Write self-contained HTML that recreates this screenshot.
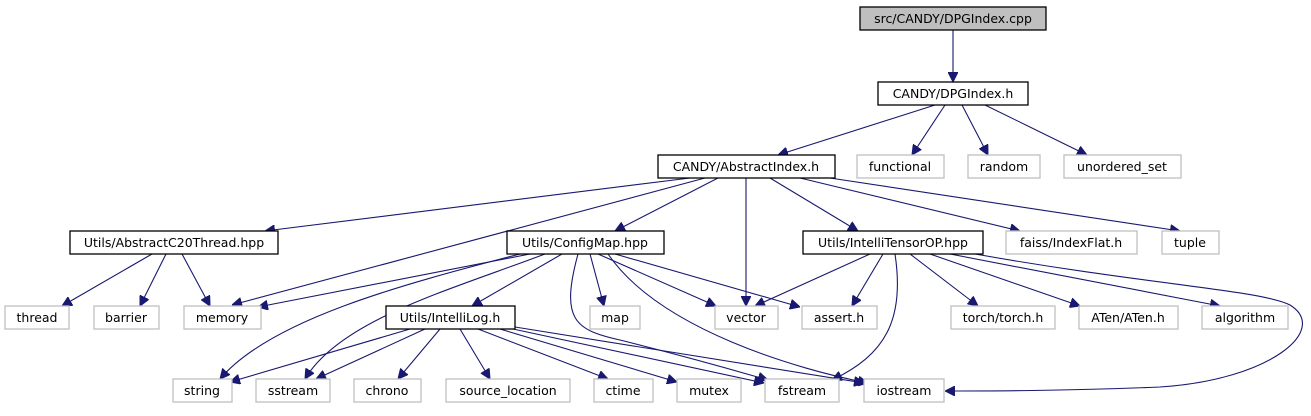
<!DOCTYPE html>
<html><head><meta charset="utf-8"><style>
body{margin:0;background:#fff;}
text{font-family:"DejaVu Sans","Liberation Sans",sans-serif;font-size:12.5px;fill:#000;text-anchor:middle;}
.n{fill:#fff;stroke:#000;stroke-width:1.3}
.g{fill:#fff;stroke:#bfbfbf;stroke-width:1.3}
.e{fill:none;stroke:#191970;stroke-width:1.1}
</style></head><body>
<svg width="1311" height="411" viewBox="0 0 1311 411" xmlns="http://www.w3.org/2000/svg">
<defs><marker id="a" viewBox="0 0 10 10" refX="10" refY="5" markerWidth="10" markerHeight="10" markerUnits="userSpaceOnUse" orient="auto"><path d="M0,0 L10,5 L0,10 z" fill="#191970" stroke="#191970"/></marker></defs>
<g class="e" marker-end="url(#a)">
<path d="M953,30 L953,82"/>
<path d="M935,105 L778,155"/>
<path d="M945,105 L912,155"/>
<path d="M962,105 L988,155"/>
<path d="M985,105 L1087,155"/>
<path d="M690,178 L265,231"/>
<path d="M705,178 L232,305"/>
<path d="M718,178 L615,231"/>
<path d="M746,178 L746,306"/>
<path d="M770,178 L858,231"/>
<path d="M800,178 L1020,231"/>
<path d="M830,178 L1180,231"/>
<path d="M152,254 L62,306"/>
<path d="M166,254 L140,306"/>
<path d="M182,254 L210,306"/>
<path d="M530,254 L258,307"/>
<path d="M520,254 C400,285 270,320 220,379"/>
<path d="M545,254 C450,290 340,320 305,379"/>
<path d="M562,254 L472,306"/>
<path d="M578,254 C560,320 575,330 620,340 C700,360 740,372 768,380"/>
<path d="M590,254 L604,306"/>
<path d="M598,254 L716,306"/>
<path d="M615,254 L800,307"/>
<path d="M608,254 C660,330 800,370 868,383"/>
<path d="M870,254 L755,306"/>
<path d="M883,254 L852,306"/>
<path d="M895,254 C905,320 885,355 832,380"/>
<path d="M910,254 L978,306"/>
<path d="M930,254 L1080,306"/>
<path d="M950,254 L1220,306"/>
<path d="M975,254 C1150,285 1260,290 1290,305 C1330,330 1270,380 1160,387 C1060,391 990,391 945,391"/>
<path d="M410,329 L230,382"/>
<path d="M425,329 L316,379"/>
<path d="M440,329 L398,379"/>
<path d="M460,329 L490,379"/>
<path d="M478,329 L608,379"/>
<path d="M500,329 L677,382"/>
<path d="M513,329 L764,383"/>
<path d="M515,327 L864,383"/>
</g>
<rect x="860" y="7" width="186" height="23" fill="#bfbfbf" stroke="#000" stroke-width="1.3"/><text x="953" y="23">src/CANDY/DPGIndex.cpp</text>
<rect class="n" x="878" y="82" width="150" height="23"/><text x="953" y="98">CANDY/DPGIndex.h</text>
<rect class="n" x="658" y="155" width="177" height="23"/><text x="746" y="171">CANDY/AbstractIndex.h</text>
<rect class="g" x="857" y="155" width="87" height="23"/><text x="900" y="171">functional</text>
<rect class="g" x="968" y="155" width="72" height="23"/><text x="1004" y="171">random</text>
<rect class="g" x="1064" y="155" width="117" height="23"/><text x="1122" y="171">unordered_set</text>
<rect class="n" x="70" y="231" width="208" height="23"/><text x="174" y="247">Utils/AbstractC20Thread.hpp</text>
<rect class="n" x="507" y="231" width="157" height="23"/><text x="585" y="247">Utils/ConfigMap.hpp</text>
<rect class="n" x="803" y="231" width="180" height="23"/><text x="893" y="247">Utils/IntelliTensorOP.hpp</text>
<rect class="g" x="1006" y="231" width="131" height="23"/><text x="1071" y="247">faiss/IndexFlat.h</text>
<rect class="g" x="1162" y="231" width="57" height="23"/><text x="1190" y="247">tuple</text>
<rect class="g" x="5" y="306" width="64" height="23"/><text x="37" y="322">thread</text>
<rect class="g" x="94" y="306" width="65" height="23"/><text x="126" y="322">barrier</text>
<rect class="g" x="184" y="306" width="77" height="23"/><text x="222" y="322">memory</text>
<rect class="n" x="386" y="306" width="129" height="23"/><text x="450" y="322">Utils/IntelliLog.h</text>
<rect class="g" x="590" y="306" width="50" height="23"/><text x="615" y="322">map</text>
<rect class="g" x="715" y="306" width="63" height="23"/><text x="746" y="322">vector</text>
<rect class="g" x="802" y="306" width="75" height="23"/><text x="839" y="322">assert.h</text>
<rect class="g" x="951" y="306" width="104" height="23"/><text x="1003" y="322">torch/torch.h</text>
<rect class="g" x="1079" y="306" width="99" height="23"/><text x="1128" y="322">ATen/ATen.h</text>
<rect class="g" x="1202" y="306" width="86" height="23"/><text x="1245" y="322">algorithm</text>
<rect class="g" x="173" y="379" width="59" height="23"/><text x="202" y="395">string</text>
<rect class="g" x="256" y="379" width="74" height="23"/><text x="293" y="395">sstream</text>
<rect class="g" x="354" y="379" width="67" height="23"/><text x="387" y="395">chrono</text>
<rect class="g" x="446" y="379" width="124" height="23"/><text x="508" y="395">source_location</text>
<rect class="g" x="594" y="379" width="59" height="23"/><text x="623" y="395">ctime</text>
<rect class="g" x="677" y="379" width="64" height="23"/><text x="709" y="395">mutex</text>
<rect class="g" x="765" y="379" width="74" height="23"/><text x="802" y="395">fstream</text>
<rect class="g" x="864" y="379" width="80" height="23"/><text x="904" y="395">iostream</text>
</svg>
</body></html>
